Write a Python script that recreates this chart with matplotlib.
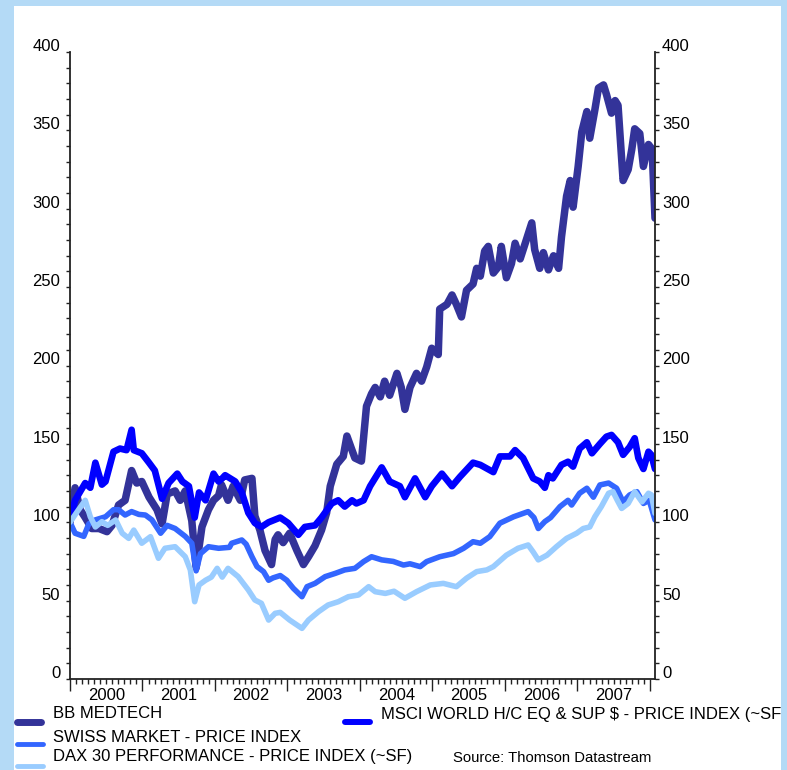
import matplotlib
matplotlib.use("Agg")
import matplotlib.pyplot as plt
import matplotlib.transforms as mtransforms
from matplotlib.lines import Line2D
from matplotlib.patches import Rectangle
from matplotlib.ticker import MultipleLocator, FixedLocator, NullFormatter
import numpy as np

plt.rcParams['font.family'] = ['Liberation Sans', 'DejaVu Sans']

# ---- data (rebased to 100) ----
bb_t = [2000.00, 2000.07, 2000.14, 2000.21, 2000.30, 2000.40, 2000.51, 2000.58, 2000.67, 2000.76,
        2000.85, 2000.92, 2000.99, 2001.09, 2001.20, 2001.27, 2001.34, 2001.45, 2001.52, 2001.59,
        2001.68, 2001.74, 2001.82, 2001.91, 2001.98, 2002.05, 2002.09, 2002.18, 2002.25, 2002.35,
        2002.41, 2002.51, 2002.55, 2002.62, 2002.69, 2002.78, 2002.83, 2002.87, 2002.94, 2003.03,
        2003.13, 2003.22, 2003.29, 2003.38, 2003.47, 2003.54, 2003.59, 2003.68, 2003.77, 2003.82,
        2003.89, 2003.93, 2004.02, 2004.09, 2004.16, 2004.21, 2004.28, 2004.34, 2004.41, 2004.51,
        2004.57, 2004.62, 2004.69, 2004.78, 2004.85, 2004.92, 2004.99, 2005.08, 2005.10, 2005.20,
        2005.27, 2005.33, 2005.40, 2005.47, 2005.56, 2005.61, 2005.66, 2005.72, 2005.77, 2005.84,
        2005.91, 2005.95, 2006.02, 2006.09, 2006.14, 2006.21, 2006.28, 2006.37, 2006.41, 2006.48,
        2006.53, 2006.60, 2006.67, 2006.74, 2006.78, 2006.85, 2006.90, 2006.94, 2007.01, 2007.06,
        2007.13, 2007.17, 2007.24, 2007.29, 2007.36, 2007.40, 2007.47, 2007.52, 2007.56, 2007.63,
        2007.70, 2007.75, 2007.79, 2007.86, 2007.91, 2007.98, 2008.03, 2008.07]
bb_v = [100, 122, 108, 103, 96, 96, 94, 98, 111, 114,
        133, 125, 126, 116, 108, 99, 118, 120, 114, 120,
        101, 71, 97, 108, 114, 117, 124, 114, 123, 114,
        127, 128, 104, 95, 82, 73, 89, 92, 87, 93,
        82, 73, 78, 85, 95, 106, 123, 137, 142, 155,
        146, 141, 139, 174, 182, 186, 180, 190, 181, 195,
        186, 172, 186, 195, 190, 199, 211, 207, 236, 239,
        245, 239, 231, 248, 252, 262, 257, 273, 276, 259,
        263, 276, 256, 265, 278, 268, 278, 291, 274, 262,
        272, 261, 270, 262, 282, 308, 318, 301, 327, 349,
        362, 345, 363, 377, 379, 373, 361, 369, 366, 318,
        325, 338, 351, 348, 327, 341, 338, 294]

msci_t = [2000.00, 2000.07, 2000.21, 2000.28, 2000.35, 2000.44, 2000.49, 2000.60, 2000.69, 2000.78,
          2000.85, 2000.88, 2000.99, 2001.09, 2001.17, 2001.27, 2001.36, 2001.48, 2001.55, 2001.64,
          2001.72, 2001.78, 2001.87, 2001.98, 2002.05, 2002.10, 2002.14, 2002.28, 2002.37, 2002.46,
          2002.55, 2002.64, 2002.74, 2002.90, 2003.01, 2003.15, 2003.24, 2003.38, 2003.47, 2003.61,
          2003.70, 2003.79, 2003.89, 2003.95, 2004.05, 2004.14, 2004.30, 2004.41, 2004.55, 2004.62,
          2004.76, 2004.90, 2004.99, 2005.13, 2005.27, 2005.38, 2005.56, 2005.66, 2005.84, 2005.93,
          2006.07, 2006.14, 2006.25, 2006.39, 2006.48, 2006.55, 2006.60, 2006.66, 2006.78, 2006.87,
          2006.94, 2007.03, 2007.13, 2007.20, 2007.31, 2007.40, 2007.47, 2007.56, 2007.63, 2007.72,
          2007.79, 2007.84, 2007.91, 2007.98, 2008.02, 2008.07]
msci_v = [101, 114, 125, 122, 138, 124, 126, 145, 147, 146,
          159, 146, 144, 138, 133, 115, 125, 131, 126, 123,
          103, 119, 114, 131, 126, 128, 130, 126, 119, 106,
          99.5, 97, 100, 103, 99.5, 92, 97, 98, 103, 112,
          114, 110, 114, 112, 114, 123, 135, 126, 123, 116,
          128, 116, 123, 131, 123, 129, 138, 136.6, 132, 142,
          142, 146, 141, 128, 126, 122, 130, 128, 136.6, 138.6,
          135.5, 147, 151, 144, 150, 154.6, 155.7, 151, 143, 148,
          153.6, 141, 134, 145, 143, 134]

smi_t = [2000.00, 2000.07, 2000.19, 2000.26, 2000.35, 2000.49, 2000.60, 2000.67, 2000.76, 2000.85,
         2000.95, 2001.04, 2001.13, 2001.25, 2001.34, 2001.45, 2001.59, 2001.68, 2001.74, 2001.80,
         2001.91, 2002.05, 2002.20, 2002.23, 2002.37, 2002.43, 2002.51, 2002.58, 2002.67, 2002.74,
         2002.80, 2002.90, 2002.99, 2003.08, 2003.20, 2003.27, 2003.38, 2003.52, 2003.66, 2003.79,
         2003.93, 2004.05, 2004.16, 2004.30, 2004.46, 2004.60, 2004.69, 2004.83, 2004.92, 2005.10,
         2005.29, 2005.43, 2005.56, 2005.66, 2005.79, 2005.93, 2006.12, 2006.32, 2006.40, 2006.46,
         2006.55, 2006.63, 2006.76, 2006.87, 2006.92, 2007.03, 2007.13, 2007.22, 2007.31, 2007.43,
         2007.54, 2007.63, 2007.72, 2007.82, 2007.91, 2007.99, 2008.07]
smi_v = [100, 93, 91, 99, 101.5, 103.5, 108, 108, 104.6, 106.8,
         105, 104.6, 101.5, 93, 98, 96, 91, 86.6, 69, 80,
         84.4, 83.4, 84, 86.6, 88.7, 86, 78, 71.7, 68.5, 63,
         64.5, 66, 63, 57.9, 52.5, 58.9, 61, 65.3, 67.4, 69.6,
         70.6, 74.9, 78, 76, 75, 72.7, 73.5, 71.7, 74.9, 78,
         80, 83.4, 87.6, 86.6, 90.8, 99.4, 103.5, 106.8, 103, 96,
         100.4, 103, 110, 114, 111, 118.5, 121.7, 116, 123.8, 125,
         121.7, 113, 117.4, 119.5, 112, 114, 101.5]

dax_t = [2000.00, 2000.10, 2000.21, 2000.28, 2000.35, 2000.44, 2000.52, 2000.63, 2000.72, 2000.81,
         2000.88, 2000.99, 2001.11, 2001.22, 2001.31, 2001.45, 2001.59, 2001.66, 2001.72, 2001.78,
         2001.87, 2001.95, 2002.03, 2002.10, 2002.18, 2002.32, 2002.46, 2002.55, 2002.64, 2002.74,
         2002.83, 2002.90, 2003.03, 2003.20, 2003.29, 2003.43, 2003.56, 2003.70, 2003.84, 2003.98,
         2004.12, 2004.21, 2004.35, 2004.47, 2004.62, 2004.78, 2004.97, 2005.15, 2005.33, 2005.47,
         2005.61, 2005.75, 2005.84, 2006.02, 2006.18, 2006.32, 2006.39, 2006.46, 2006.58, 2006.71,
         2006.85, 2006.99, 2007.08, 2007.17, 2007.24, 2007.33, 2007.43, 2007.49, 2007.55, 2007.61,
         2007.70, 2007.79, 2007.89, 2007.98, 2008.02, 2008.07]
dax_v = [100, 106.8, 114, 103.5, 97, 100.4, 98, 101.5, 93, 89.7,
         95, 86.6, 90.8, 77, 83.4, 84.4, 78, 69.6, 49.3, 60,
         63, 65, 70.6, 65, 70.6, 65.3, 56.8, 50.4, 48.3, 37.6,
         41.9, 42.5, 37.6, 32.3, 37.6, 43, 47.2, 49.3, 52.5, 53.6,
         58.9, 55.7, 54.6, 56, 51.5, 55.7, 60, 61, 58.9, 64.3,
         68.5, 69.6, 71.7, 79, 83.4, 85.5, 81, 76, 79, 84.4,
         89.7, 93, 96, 97, 103.5, 110, 118.5, 119.5, 114, 108.8,
         112, 119.5, 113, 118.5, 117.5, 105.7]

years = list(range(2000, 2008))
names = ["BB MEDTECH", "MSCI WORLD H/C EQ & SUP $ - PRICE INDEX (~SF)",
         "SWISS MARKET - PRICE INDEX", "DAX 30 PERFORMANCE - PRICE INDEX (~SF)"]
colors = ["#333399", "#0000ff", "#3366ff", "#99ccff"]
widths = [5.4, 4.8, 4.0, 4.0]
leg_widths = [5.0, 4.3, 3.5, 3.5]

W, H = 787, 770
bg = "#b4daf6"

def px(x, y):
    return (x / W, 1 - y / H)

fig = plt.figure(figsize=(W / 100, H / 100), dpi=100, facecolor=bg)
fig.patches.append(Rectangle(px(14, 770), (781 - 14) / W, (770 - 6) / H,
                             transform=fig.transFigure, facecolor="white",
                             edgecolor="none", zorder=-5))

ax = fig.add_axes([70 / W, 1 - 679 / H, (655 - 70) / W, (679 - 52) / H])
ax.set_facecolor("none")

for t, v, c, lw in zip([bb_t, msci_t, smi_t, dax_t], [bb_v, msci_v, smi_v, dax_v], colors, widths):
    ax.plot(t, v, color=c, lw=lw, solid_joinstyle="round", solid_capstyle="round")

ax.set_xlim(2000.0, 2008.07)
ax.set_ylim(0, 400)

ax2 = ax.twinx()
ax2.set_ylim(0, 400)

for a in (ax, ax2):
    a.spines["top"].set_visible(False)
    for s in a.spines.values():
        s.set_linewidth(1.3)
        s.set_color("#222222")
    a.yaxis.set_major_locator(MultipleLocator(50))
    a.yaxis.set_minor_locator(MultipleLocator(10))
    a.tick_params(axis="y", which="both", direction="out", length=3, width=1,
                  color="#222222", labelsize=12, pad=2)

ax.spines["right"].set_visible(False)
ax2.spines["left"].set_visible(False)
ax2.spines["bottom"].set_visible(False)
ax.tick_params(axis="y", pad=4)

off = mtransforms.ScaledTranslation(0, 0.07, fig.dpi_scale_trans)
for a in (ax, ax2):
    for lab in a.get_yticklabels():
        lab.set_transform(lab.get_transform() + off)

# x axis: year boundaries long, monthly short
ax.xaxis.set_major_locator(FixedLocator(list(range(2000, 2009))))
ax.xaxis.set_minor_locator(FixedLocator([2000 + m / 12 for m in range(97)]))
ax.xaxis.set_major_formatter(NullFormatter())
ax.tick_params(axis="x", which="major", direction="out", length=8.5, width=1, color="#222222")
ax.tick_params(axis="x", which="minor", direction="out", length=3.6, width=1, color="#222222")
for y in years:
    ax.text(y + 0.5, -16 / 627, str(y), transform=ax.get_xaxis_transform(),
            ha="center", va="center", fontsize=12)

# legend
leg = [((17, 41, 722), (53, 713)), ((345, 370, 722), (381, 714)),
       ((16.5, 42.5, 744), (53, 738)), ((16.5, 42.5, 766), (53, 756))]
for (sw, tx), name, c, lw in zip(leg, names, colors, leg_widths):
    x0, x1, yy = sw
    fig.add_artist(Line2D([x0 / W, x1 / W], [1 - yy / H, 1 - yy / H], transform=fig.transFigure,
                          color=c, lw=lw, solid_capstyle="round"))
    fig.text(*px(*tx), name, ha="left", va="center", fontsize=12)

fig.text(*px(453, 758), "Source: Thomson Datastream", ha="left", va="center", fontsize=10.7)

# border strips covering overflowing text
fig.patches.append(Rectangle((781 / W, 0), (W - 781) / W, 1, transform=fig.transFigure,
                             facecolor=bg, edgecolor="none", zorder=20))
fig.patches.append(Rectangle((0, 0), 14 / W, 1, transform=fig.transFigure,
                             facecolor=bg, edgecolor="none", zorder=20))

fig.savefig("out.png", dpi=100, facecolor=bg)
